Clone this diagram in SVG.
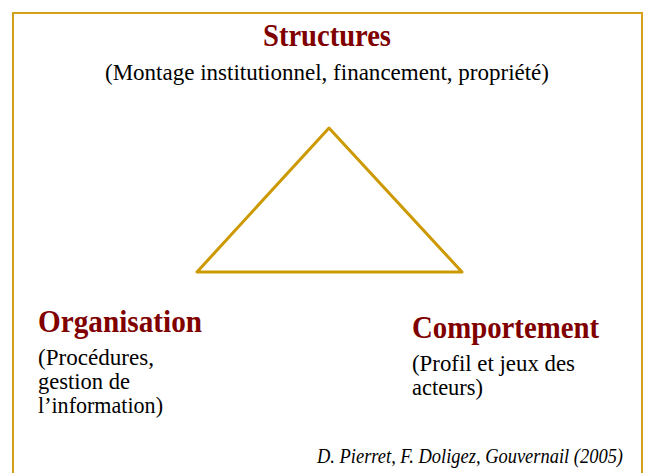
<svg xmlns="http://www.w3.org/2000/svg" width="645" height="473" viewBox="0 0 645 473">
<style>
.t{font-family:"Liberation Serif","Times New Roman",serif;font-weight:bold;fill:#800000;font-size:31px}
.b{font-family:"Liberation Serif","Times New Roman",serif;fill:#000;font-size:24px}
.c{font-family:"Liberation Serif","Times New Roman",serif;font-style:italic;fill:#000;font-size:21px}
</style>
<rect x="0" y="0" width="645" height="473" fill="#fff"/>
<rect x="13" y="13" width="629" height="470" fill="none" stroke="#D4A017" stroke-width="2"/>
<g id="connectors">
<polygon points="329,128 197,272 462,272" fill="none" stroke="#CC9900" stroke-width="3" stroke-linejoin="round"/>
</g>
<g id="structures">
<text class="t" x="327" y="46" text-anchor="middle" textLength="128" lengthAdjust="spacingAndGlyphs">Structures</text>
<text class="b" x="327" y="80" text-anchor="middle" textLength="444" lengthAdjust="spacingAndGlyphs">(Montage institutionnel, financement, propriété)</text>
</g>
<g id="organisation">
<text class="t" x="38" y="332" textLength="164" lengthAdjust="spacingAndGlyphs">Organisation</text>
<text class="b" x="38" y="365" textLength="116" lengthAdjust="spacingAndGlyphs">(Procédures,</text>
<text class="b" x="38" y="389" textLength="92" lengthAdjust="spacingAndGlyphs">gestion de</text>
<text class="b" x="38" y="413" textLength="125" lengthAdjust="spacingAndGlyphs">l’information)</text>
</g>
<g id="comportement">
<text class="t" x="412" y="338" textLength="187" lengthAdjust="spacingAndGlyphs">Comportement</text>
<text class="b" x="412" y="371" textLength="163" lengthAdjust="spacingAndGlyphs">(Profil et jeux des</text>
<text class="b" x="412" y="395" textLength="71" lengthAdjust="spacingAndGlyphs">acteurs)</text>
</g>
<text class="c" x="317" y="463" textLength="306" lengthAdjust="spacingAndGlyphs">D. Pierret, F. Doligez, Gouvernail (2005)</text>
</svg>
